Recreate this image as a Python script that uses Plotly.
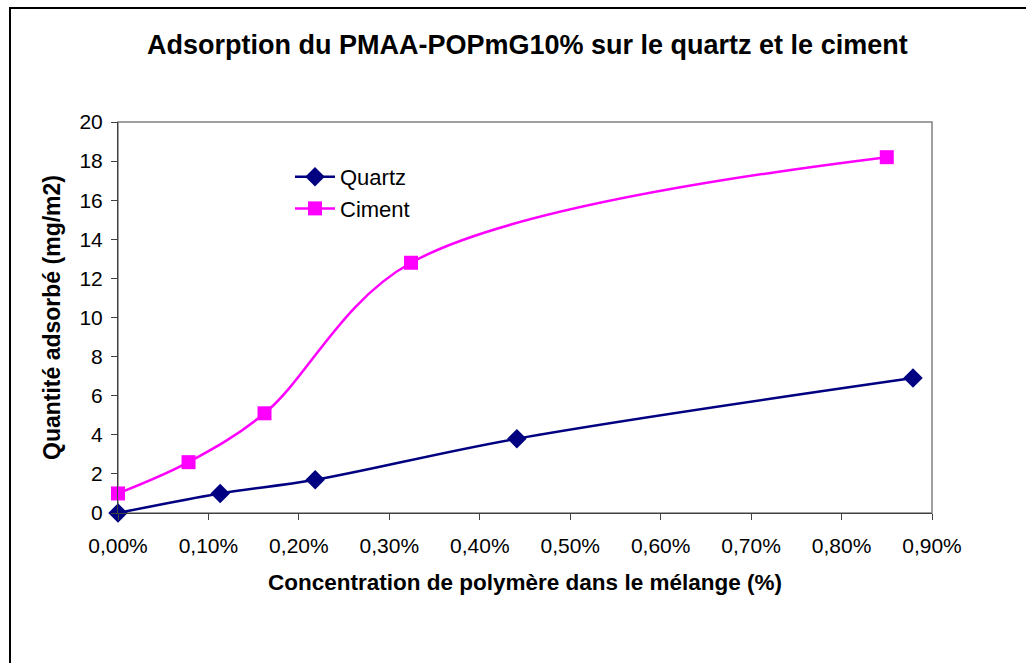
import plotly.graph_objects as go

# Polymer concentration in the mix (fraction, shown as %) and adsorbed amount (mg/m2)
quartz_conc = [0.0, 0.00113, 0.00218, 0.00441, 0.00879]
quartz_ads = [0.0, 1.0, 1.7, 3.8, 6.9]

ciment_conc = [0.0, 0.00078, 0.00162, 0.00324, 0.0085]
ciment_ads = [1.0, 2.6, 5.1, 12.8, 18.2]

x_ticks = [i / 1000 for i in range(0, 10)]
y_ticks = list(range(0, 21, 2))

W, H = 1026, 663
L, R, T, B = 118, 94, 122, 150
pw, ph = W - L - R, H - T - B


def px(x):
    return (x - L) / pw


def py(y):
    return (H - B - y) / ph


fig = go.Figure()
fig.add_trace(go.Scatter(
    x=quartz_conc, y=quartz_ads, name="Quartz", mode="lines+markers",
    line=dict(color="#000080", width=2.5, shape="spline", smoothing=1),
    marker=dict(symbol="diamond", size=15, color="#000080"),
    cliponaxis=False,
))
fig.add_trace(go.Scatter(
    x=ciment_conc, y=ciment_ads, name="Ciment", mode="lines+markers",
    line=dict(color="#FF00FF", width=2.5, shape="spline", smoothing=1),
    marker=dict(symbol="square", size=14, color="#FF00FF"),
    cliponaxis=False,
))

font = "Liberation Sans, Arial, sans-serif"

fig.update_layout(
    width=W, height=H,
    margin=dict(l=L, r=R, t=T, b=B),
    paper_bgcolor="white", plot_bgcolor="white",
    separators=", ",
    font=dict(family=font, size=21, color="black"),
    title=dict(
        text="<b>Adsorption du PMAA-POPmG10% sur le quartz et le ciment</b>",
        x=0.514, xanchor="center", y=1 - 45 / H, yanchor="middle",
        font=dict(size=27, family=font),
    ),
    showlegend=True,
    legend=dict(
        x=px(290), y=py(156), xanchor="left", yanchor="top",
        bgcolor="rgba(0,0,0,0)", font=dict(size=22),
        tracegroupgap=0, itemwidth=40,
    ),
    xaxis=dict(
        range=[0, 0.009], tickvals=x_ticks, tickformat=".2%",
        showgrid=False, zeroline=False,
        showline=True, linecolor="#404040", linewidth=1,
        ticks="outside", ticklen=6, tickcolor="#404040",
        ticklabelstandoff=8,
        tickfont=dict(size=21),
        title=dict(text="<b>Concentration de polymère dans le mélange (%)</b>",
                   font=dict(size=22.5), standoff=18),
    ),
    yaxis=dict(
        range=[0, 20], tickvals=y_ticks,
        showgrid=False, zeroline=False,
        showline=True, linecolor="#404040", linewidth=1,
        ticks="outside", ticklen=6, tickcolor="#404040",
        ticklabelstandoff=4,
        tickfont=dict(size=21),
        title=dict(text="<b>Quantité adsorbé (mg/m2)</b>",
                   font=dict(size=23), standoff=12),
    ),
    shapes=[
        # plot-area frame (top and right edges in grey)
        dict(type="rect", xref="paper", yref="paper", x0=0, x1=1, y0=0, y1=1,
             line=dict(color="#808080", width=1.5), layer="below"),
        # outer chart border
        dict(type="rect", xref="paper", yref="paper",
             x0=px(10), x1=px(W + 20), y0=py(H + 20), y1=py(8),
             line=dict(color="black", width=2)),
    ],
)

fig.write_html("out.html")
